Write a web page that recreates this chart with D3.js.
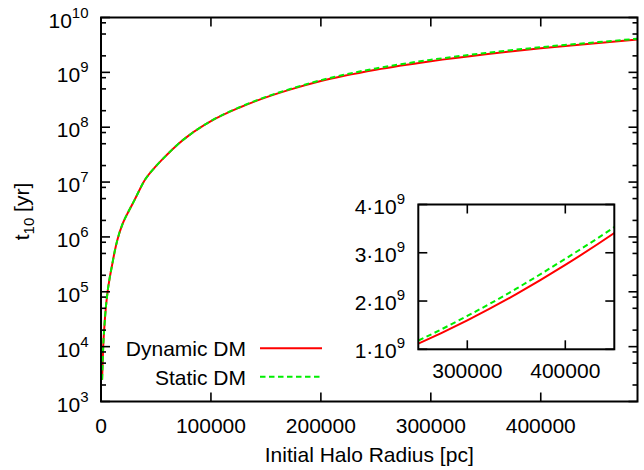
<!DOCTYPE html>
<html><head><meta charset="utf-8">
<script src="https://d3js.org/d3.v7.min.js"></script>
<style>
body{margin:0;background:#fff;}
text{font-family:"Liberation Sans",Arial,sans-serif;fill:#000;}
</style></head>
<body><svg id="c" width="644" height="470"></svg>
<script>
// ---- data ----
const radius    = [1000, 2000, 3000, 4500, 6000, 7500, 10000, 12500, 15000, 20000, 25000, 30000, 40000, 50000, 60000, 70000, 80000, 100000, 125000, 150000, 175000, 200000, 250000, 300000, 350000, 400000, 450000, 488000];
const dynamicDM = [2.5e3, 1.0e4, 2.2e4, 5.4e4, 1.0e5, 1.6e5, 3.0e5, 5.5e5, 9.0e5, 1.8e6, 2.9e6, 4.5e6, 1.1e7, 1.95e7, 3.15e7, 4.9e7, 7.1e7, 1.29e8, 2.24e8, 3.5e8, 5.05e8, 6.95e8, 1.118e9, 1.60e9, 2.143e9, 2.748e9, 3.409e9, 3.96e9];
const staticDM  = [2.5e3, 1.0e4, 2.2e4, 5.4e4, 1.0e5, 1.6e5, 3.0e5, 5.5e5, 9.0e5, 1.8e6, 2.9e6, 4.5e6, 1.1e7, 1.95e7, 3.15e7, 4.9e7, 7.1e7, 1.30e8, 2.27e8, 3.57e8, 5.18e8, 7.2e8, 1.18e9, 1.691e9, 2.256e9, 2.875e9, 3.532e9, 4.10e9];
const seriesNames = ["Dynamic DM", "Static DM"];
const xTicks = [0, 100000, 200000, 300000, 400000];
const yExps  = [3, 4, 5, 6, 7, 8, 9, 10];
const yMinor = [2, 5, 8];
const insetXTicks = [300000, 400000];
const insetYTicks = [1, 2, 3, 4]; // ×10^9
const xLabel = "Initial Halo Radius [pc]";

const svg = d3.select("#c");
const M = {l:101, r:637.5, t:17.5, b:401.5};
const x = d3.scaleLinear().domain([0, 488000]).range([M.l, M.r]);
const y = d3.scaleLog().domain([1e3, 1e10]).range([M.b, M.t]);

const colors = ["#ff0000", "#00ee00"];
const dashes = [null, "5.5,3.5"];
const series = [dynamicDM, staticDM];
const FS = 21, SS = 15;

// main curves
const line = d3.line().x((d,i)=>x(radius[i])).y(d=>y(d)).curve(d3.curveMonotoneX);
svg.append("clipPath").attr("id","mainclip").append("rect")
  .attr("x", M.l).attr("y", M.t).attr("width", M.r-M.l).attr("height", M.b-M.t);
series.forEach((s,k)=>{
  svg.append("path").datum(s).attr("d", line).attr("fill","none")
    .attr("stroke", colors[k]).attr("stroke-width", 2)
    .attr("stroke-dasharray", dashes[k]).attr("clip-path","url(#mainclip)");
});

// main axes ticks
const ax = svg.append("g").attr("stroke","#000").attr("stroke-width",1.6);
xTicks.forEach(v=>{
  ax.append("line").attr("x1",x(v)).attr("x2",x(v)).attr("y1",M.b).attr("y2",M.b-9);
  ax.append("line").attr("x1",x(v)).attr("x2",x(v)).attr("y1",M.t).attr("y2",M.t+9);
});
yExps.forEach(e=>{
  const yy = y(Math.pow(10,e));
  ax.append("line").attr("x1",M.l).attr("x2",M.l+9).attr("y1",yy).attr("y2",yy);
  ax.append("line").attr("x1",M.r).attr("x2",M.r-9).attr("y1",yy).attr("y2",yy);
  if (e < 10) yMinor.forEach(m=>{
    const ym = y(m*Math.pow(10,e));
    ax.append("line").attr("x1",M.l).attr("x2",M.l+5).attr("y1",ym).attr("y2",ym);
    ax.append("line").attr("x1",M.r).attr("x2",M.r-5).attr("y1",ym).attr("y2",ym);
  });
});
svg.append("rect").attr("x",M.l).attr("y",M.t).attr("width",M.r-M.l).attr("height",M.b-M.t)
  .attr("fill","none").attr("stroke","#000").attr("stroke-width",2);

// tick labels
xTicks.forEach(v=>{
  svg.append("text").attr("x",x(v)).attr("y",M.b+31).attr("text-anchor","middle")
    .style("font-size",FS+"px").text(v);
});
yExps.forEach(e=>{
  const yy = y(Math.pow(10,e));
  const t = svg.append("text").attr("x",88.5).attr("y",yy+10).attr("text-anchor","end").style("font-size",FS+"px");
  t.append("tspan").text("10");
  t.append("tspan").attr("dy",-10).style("font-size",SS+"px").text(e);
});
svg.append("text").attr("x",(M.l+M.r)/2).attr("y",462).attr("text-anchor","middle")
  .style("font-size",FS+"px").text(xLabel);
const yt = svg.append("text").attr("transform",`translate(29,${(M.t+M.b)/2+2}) rotate(-90)`)
  .attr("text-anchor","middle").style("font-size",FS+"px");
yt.append("tspan").text("t");
yt.append("tspan").attr("dy",5).style("font-size",SS+"px").text("10");
yt.append("tspan").attr("dy",-5).text(" [yr]");

// legend
seriesNames.forEach((n,k)=>{
  const ly = 348.3 + k*28.4;
  svg.append("text").attr("x",246).attr("y",ly+8).attr("text-anchor","end")
    .style("font-size",FS+"px").text(n);
  svg.append("line").attr("x1",260).attr("x2",322).attr("y1",ly).attr("y2",ly)
    .attr("stroke",colors[k]).attr("stroke-width",2).attr("stroke-dasharray",dashes[k]);
});

// inset
const I = {l:418.3, r:614.3, t:204.5, b:349.3};
const xi = d3.scaleLinear().domain([250000, 450000]).range([I.l, I.r]);
const yi = d3.scaleLinear().domain([1e9, 4e9]).range([I.b, I.t]);
svg.append("rect").attr("x",I.l).attr("y",I.t).attr("width",I.r-I.l).attr("height",I.b-I.t).attr("fill","#fff");
svg.append("clipPath").attr("id","insclip").append("rect")
  .attr("x",I.l).attr("y",I.t).attr("width",I.r-I.l).attr("height",I.b-I.t);
const lineI = d3.line().x((d,i)=>xi(radius[i])).y(d=>yi(d)).curve(d3.curveNatural)
  .defined((d,i)=>radius[i] >= 200000);
series.forEach((s,k)=>{
  svg.append("path").datum(s).attr("d", lineI).attr("fill","none")
    .attr("stroke", colors[k]).attr("stroke-width", 2)
    .attr("stroke-dasharray", dashes[k]).attr("clip-path","url(#insclip)");
});
const ai = svg.append("g").attr("stroke","#000").attr("stroke-width",1.6);
insetXTicks.forEach(v=>{
  ai.append("line").attr("x1",xi(v)).attr("x2",xi(v)).attr("y1",I.b).attr("y2",I.b-9);
  ai.append("line").attr("x1",xi(v)).attr("x2",xi(v)).attr("y1",I.t).attr("y2",I.t+9);
  svg.append("text").attr("x",xi(v)).attr("y",I.b+29).attr("text-anchor","middle")
    .style("font-size",FS+"px").text(v);
});
insetYTicks.forEach(v=>{
  const yy = yi(v*1e9);
  ai.append("line").attr("x1",I.l).attr("x2",I.l+9).attr("y1",yy).attr("y2",yy);
  ai.append("line").attr("x1",I.r).attr("x2",I.r-9).attr("y1",yy).attr("y2",yy);
  const t = svg.append("text").attr("x",405).attr("y",yy+9).attr("text-anchor","end").style("font-size",FS+"px");
  t.append("tspan").text(v + "\u00b710");
  t.append("tspan").attr("dy",-10).style("font-size",SS+"px").text("9");
});
svg.append("rect").attr("x",I.l).attr("y",I.t).attr("width",I.r-I.l).attr("height",I.b-I.t)
  .attr("fill","none").attr("stroke","#000").attr("stroke-width",2);
</script></body></html>
